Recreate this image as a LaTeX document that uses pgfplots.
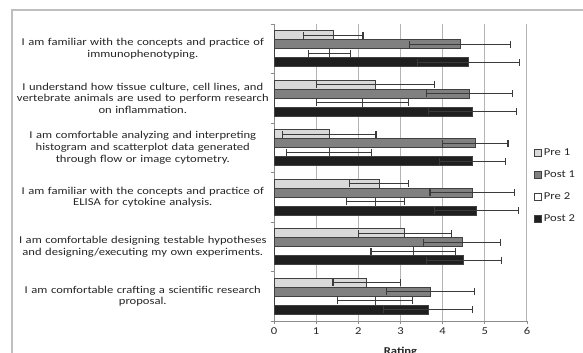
\documentclass[border=0pt]{standalone}
\usepackage{pgfplots}
\pgfplotsset{compat=1.18}
\usepackage{fontspec}
\setmainfont{Carlito}[FakeStretch=1.2]
\definecolor{framegray}{HTML}{BFBFBF}
\definecolor{gridgray}{HTML}{B4B4B4}
\definecolor{axisgray}{HTML}{8C8C8C}
\definecolor{txt}{HTML}{262626}
\definecolor{preone}{HTML}{D9D9D9}
\definecolor{postone}{HTML}{808080}
\definecolor{posttwo}{HTML}{1F1F1F}
\definecolor{edge}{HTML}{404040}
\definecolor{errc}{HTML}{3A3A3A}

% y = category position plus the bar's offset within its group
\pgfplotstableread{
y x ex
5.2727 1.41 0.70
4.2727 2.40 1.40
3.2727 1.31 1.11
2.2727 2.50 0.70
1.2727 3.10 1.10
0.2727 2.20 0.80
}\preone

\pgfplotstableread{
y x ex
5.0909 4.41 1.20
4.0909 4.63 1.02
3.0909 4.77 0.78
2.0909 4.70 1.00
1.0909 4.46 0.91
0.0909 3.71 1.05
}\postone

\pgfplotstableread{
y x ex
4.9091 1.31 0.50
3.9091 2.10 1.10
2.9091 1.31 1.01
1.9091 2.40 0.69
0.9091 3.30 1.00
-0.0909 2.40 0.89
}\pretwo

\pgfplotstableread{
y x ex
4.7273 4.61 1.21
3.7273 4.71 1.04
2.7273 4.71 0.79
1.7273 4.80 1.00
0.7273 4.50 0.89
-0.2727 3.65 1.05
}\posttwo

\begin{document}
\begin{tikzpicture}
\useasboundingbox (0bp,0bp) rectangle (583bp,353bp);
\draw[framegray, line width=1.5bp] (12bp,-5bp) -- (12bp,343bp) -- (590bp,343bp);
\begin{axis}[
  at={(274bp,32bp)}, anchor=south west,
  width=253bp, height=297bp, scale only axis,
  xmin=0, xmax=6, ymin=-0.5, ymax=5.5,
  xbar, bar width=9bp, bar shift=0pt,
  font=\fontsize{10.5bp}{11.7bp}\selectfont,
  /pgf/number format/assume math mode=true,
  xtick={0,1,...,6},
  ytick={0,1,2,3,4,5},
  yticklabels={
    {I am comfortable crafting a scientific research\\proposal.},
    {I am comfortable designing testable hypotheses\\and designing/executing my own experiments.},
    {I am familiar with the concepts and practice of\\ELISA for cytokine analysis.},
    {I am comfortable analyzing and interpreting\\histogram and scatterplot data generated\\through flow or image cytometry.},
    {I understand how tissue culture, cell lines, and\\vertebrate animals are used to perform research\\on inflammation.},
    {I am familiar with the concepts and practice of\\immunophenotyping.}
  },
  yticklabel style={text width=256bp, align=center, anchor=east, inner sep=0pt, xshift=0bp, text=txt, font=\fontsize{10.5bp}{11.7bp}\selectfont},
  xticklabel style={text=txt},
  minor ytick={-0.5,0.5,...,5.5},
  major y tick style={draw=none},
  minor y tick style={draw=axisgray, line width=0.8bp},
  major x tick style={draw=axisgray, line width=0.8bp},
  tick align=outside,
  major tick length=3bp, minor tick length=3bp,
  xmajorgrids,
  grid style={draw=gridgray, line width=1bp},
  axis x line*=bottom, axis y line*=left,
  axis line style={draw=axisgray, line width=1bp, -},
  xlabel={\bfseries Rating},
  xlabel style={text=txt, yshift=-6bp},
  error bars/error bar style={line width=1.1bp, color=errc},
  error bars/error mark=|,
  error bars/error mark options={line width=1.1bp, mark size=3.4bp, color=errc},
  legend style={at={(1,0.455)}, anchor=west, xshift=4bp, draw=none, fill=none,
    row sep=9.5bp, font=\fontsize{10.5bp}{11.7bp}\selectfont, text=txt,
    cells={anchor=west}},
  legend image code/.code={\draw[#1, line width=0.8bp] (0bp,-3.5bp) rectangle (7bp,3.5bp);},
]
\addplot[fill=preone, draw=edge, line width=0.8bp,
  error bars/.cd, x dir=both, x explicit] table[x=x, y=y, x error=ex]{\preone};
\addlegendentry{Pre 1}
\addplot[fill=postone, draw=edge, line width=0.8bp,
  error bars/.cd, x dir=both, x explicit] table[x=x, y=y, x error=ex]{\postone};
\addlegendentry{Post 1}
\addplot[fill=white, draw=edge, line width=0.8bp,
  error bars/.cd, x dir=both, x explicit] table[x=x, y=y, x error=ex]{\pretwo};
\addlegendentry{Pre 2}
\addplot[fill=posttwo, draw=edge, line width=0.8bp,
  error bars/.cd, x dir=both, x explicit] table[x=x, y=y, x error=ex]{\posttwo};
\addlegendentry{Post 2}
\end{axis}
\end{tikzpicture}
\end{document}
